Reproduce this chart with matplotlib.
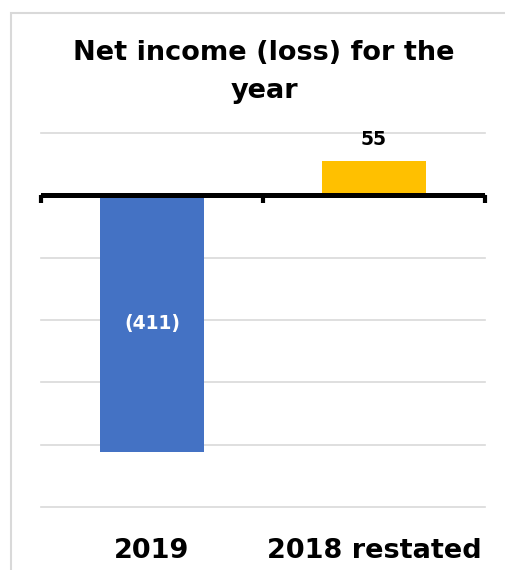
import matplotlib
matplotlib.use("Agg")
import matplotlib.pyplot as plt
from matplotlib.patches import Rectangle

plt.rcParams['font.family'] = ['DejaVu Sans']

categories = ["2019", "2018 restated"]
values = [-411, 55]
labels = ["(411)", "55"]
colors = ["#4472C4", "#FFC000"]
title_lines = ["Net income (loss) for the", "year"]

W, H = 505, 570
fig = plt.figure(figsize=(W / 100, H / 100), dpi=100)

# light chart-area border (runs off the right and bottom edges)
fig.patches.append(Rectangle((11 / W, -0.05), 1.1, (H - 13) / H + 0.05,
                             transform=fig.transFigure, fill=False,
                             edgecolor="#D9D9D9", linewidth=1.5))

ax = fig.add_axes([41 / W, (H - 507) / H, (485 - 41) / W, (507 - 133) / H])
x = list(range(len(categories)))
ax.bar(x, values, width=0.465, color=colors, zorder=2)
ax.set_xlim(-0.5, 1.5)
ax.set_ylim(-500, 100)
ax.set_yticks(range(-500, 101, 100))
ax.yaxis.grid(True, color="#D9D9D9", linewidth=1.2, zorder=0)
for gl in ax.get_ygridlines():
    gl.set_clip_on(False)
ax.tick_params(axis="y", left=False, labelleft=False)
ax.tick_params(axis="x", bottom=False, labelbottom=False)
for s in ax.spines.values():
    s.set_visible(False)

# zero line with category-boundary tick marks
ax.axhline(0, color="black", linewidth=3.6, zorder=3)
for b in [-0.5, 0.5, 1.5]:
    ax.plot([b, b], [0, -13], color="black", linewidth=3.0,
            solid_capstyle="butt", zorder=3, clip_on=False)

# data labels
ax.text(0, values[0] / 2, labels[0], ha="center", va="center",
        color="white", fontsize=13.5, fontweight="bold", zorder=4)
ax.text(1, values[1] + 34, labels[1], ha="center", va="center",
        color="black", fontsize=13.5, fontweight="bold", zorder=4)

# category labels below the plot area
for xi, c in zip(x, categories):
    ax.text(xi, -570, c, ha="center", va="center", fontsize=19.5,
            fontweight="bold", color="black", clip_on=False)

# two-line chart title, centred on the chart area
for line, base_px in zip(title_lines, [60, 98]):
    fig.text(264 / W, (H - base_px) / H, line, ha="center", va="baseline",
             fontsize=19.5, fontweight="bold", color="black")

fig.savefig("out.png", dpi=100, facecolor="white")
